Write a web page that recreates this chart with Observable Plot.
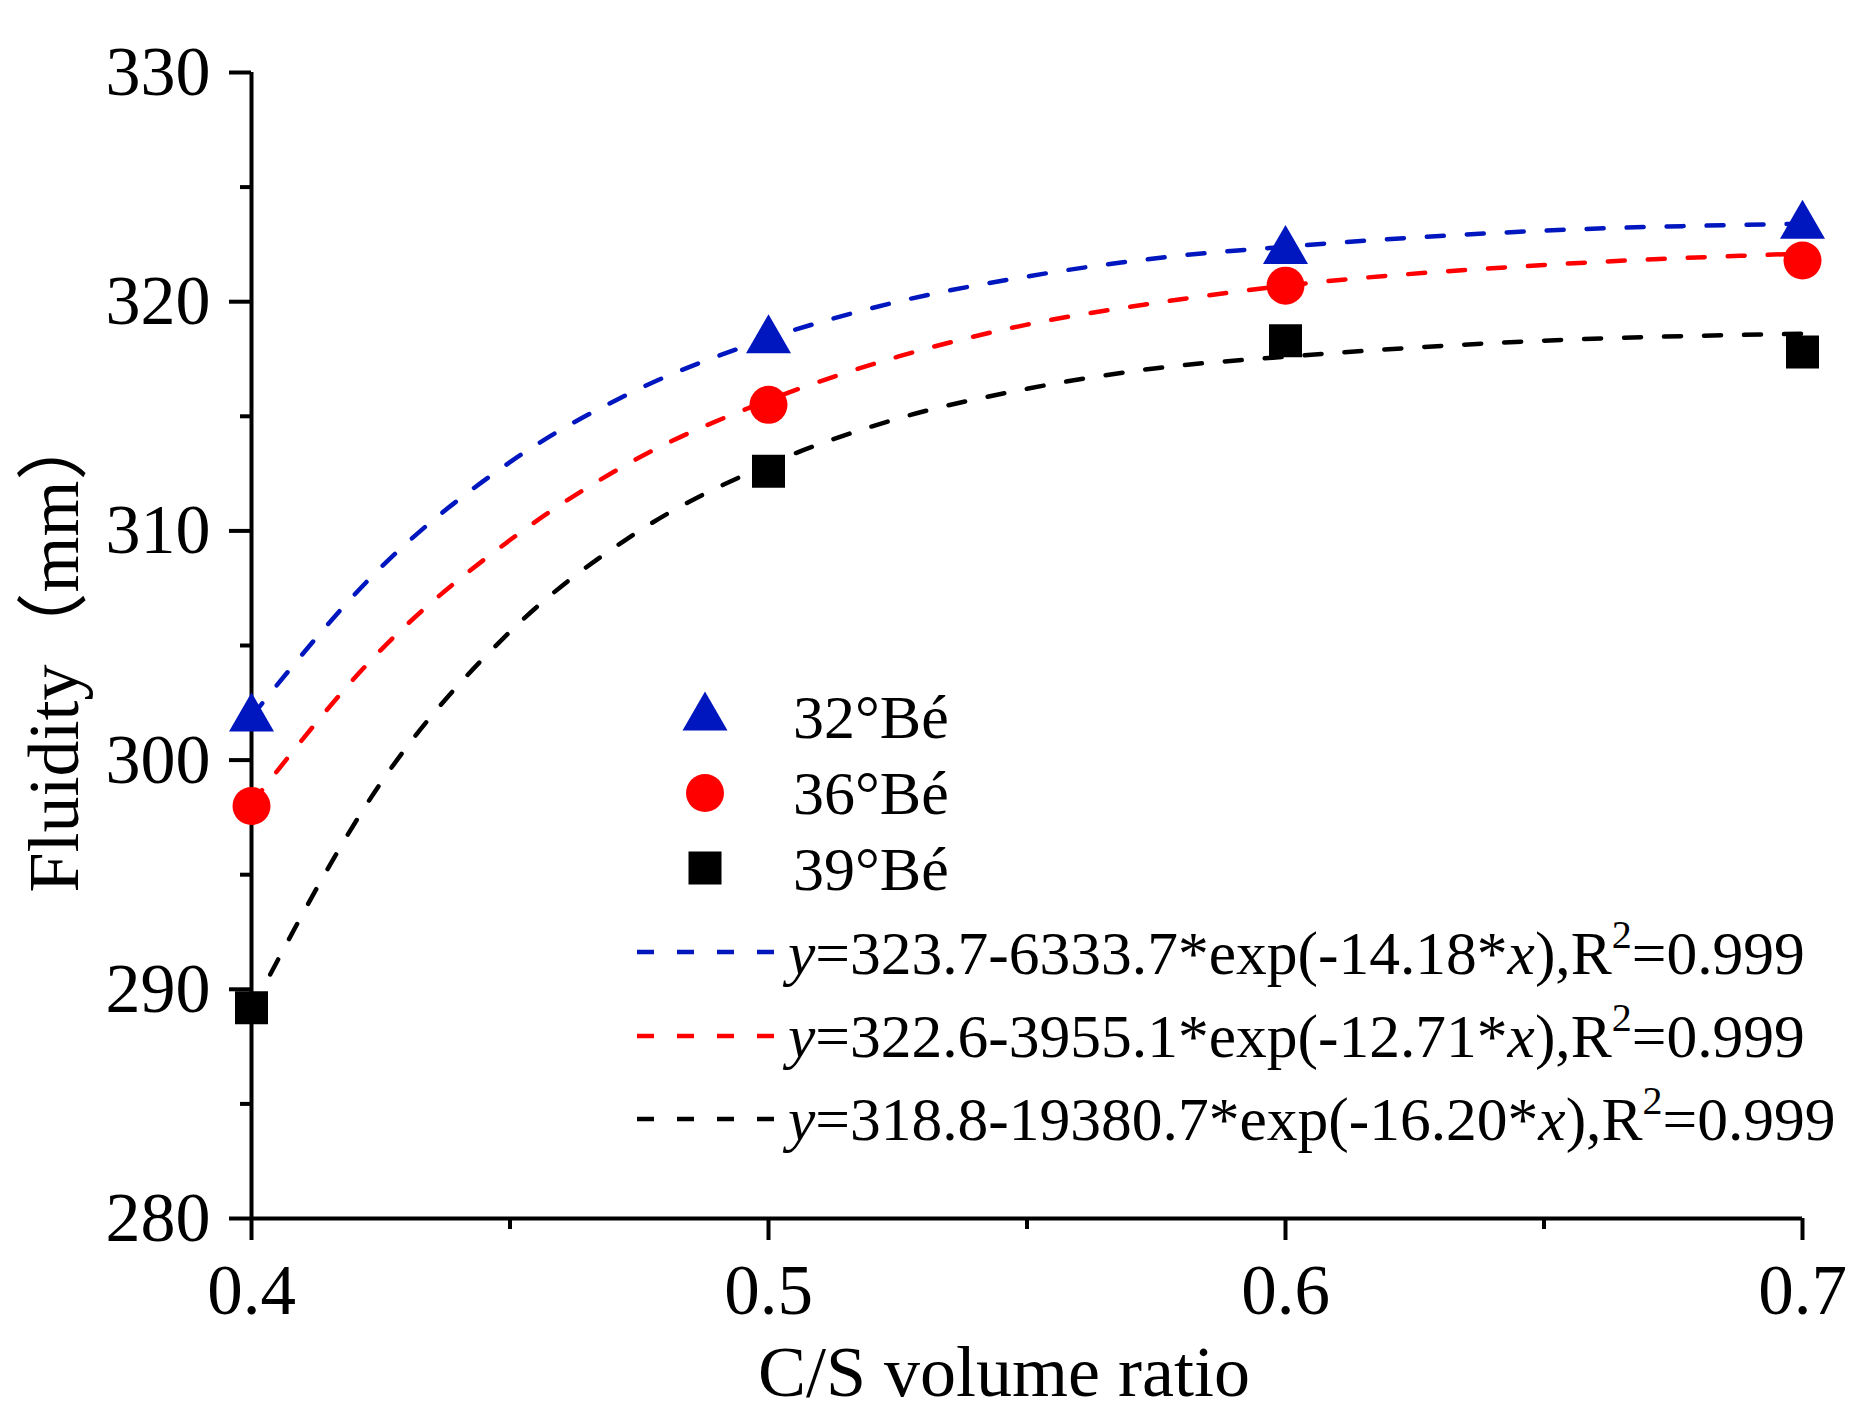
<!DOCTYPE html>
<html>
<head>
<meta charset="utf-8">
<script src="https://cdn.jsdelivr.net/npm/d3@7"></script>
<script src="https://cdn.jsdelivr.net/npm/@observablehq/plot@0.6"></script>
<style>
  html, body { margin: 0; padding: 0; background: #ffffff; }
  #wrap { position: relative; width: 1872px; height: 1424px; background: #ffffff; }
  #wrap svg { display: block; }
  #legend { position: absolute; left: 0; top: 0; pointer-events: none; }
</style>
</head>
<body>
<div id="wrap"></div>
<script>
// ---- data ----
const csRatio = [0.4, 0.5, 0.6, 0.7];
const fluidity32 = [302.1, 318.6, 322.5, 323.6];
const fluidity36 = [298.0, 315.5, 320.7, 321.8];
const fluidity39 = [289.2, 312.6, 318.3, 317.8];

// fitted curves (dashed)
const fitX   = [0.4, 0.425, 0.45, 0.475, 0.5, 0.525, 0.55, 0.575, 0.6, 0.65, 0.7];
const fit32  = [301.9, 308.4, 313.0, 316.2, 318.4, 320.0, 321.1, 321.9, 322.4, 323.1, 323.4];
const fit36  = [298.1, 304.8, 309.6, 313.2, 315.7, 317.6, 319.0, 319.95, 320.7, 321.6, 322.1];
const fit39  = [289.1, 299.0, 305.6, 310.0, 312.9, 314.9, 316.2, 317.1, 317.6, 318.3, 318.6];

const seriesNames = ["32°Bé", "36°Bé", "39°Bé"];
const fitLabels = [
  ["323.7-6333.7*exp(-14.18*", "0.999"],
  ["322.6-3955.1*exp(-12.71*", "0.999"],
  ["318.8-19380.7*exp(-16.20*", "0.999"]
];

const yTicks = [280, 290, 300, 310, 320, 330];
const yMinorTicks = [285, 295, 305, 315, 325];
const xTicks = [0.4, 0.5, 0.6, 0.7];
const xMinorTicks = [0.45, 0.55, 0.65];

// ---- styles ----
const BLUE = "#0016be", RED = "#ff0000", BLACK = "#000000";
const colors = [BLUE, RED, BLACK];
const FONT = "'Liberation Serif','Times New Roman','Noto Sans CJK SC',serif";

const triUp = {draw(ctx, size) {
  const r = Math.sqrt(size / Math.PI), h = r * Math.sqrt(3);
  ctx.moveTo(0, -h / 2); ctx.lineTo(r, h / 2); ctx.lineTo(-r, h / 2); ctx.closePath();
}};
const sq = {draw(ctx, size) {
  const r = Math.sqrt(size / Math.PI);
  ctx.rect(-r, -r, 2 * r, 2 * r);
}};

const pts = (ys) => csRatio.map((x, i) => ({x, y: ys[i]}));
const fit = (ys) => fitX.map((x, i) => ({x, y: ys[i]}));

const dash = "17,23";
const chart = Plot.plot({
  width: 1872, height: 1424,
  marginLeft: 251, marginRight: 70, marginTop: 72, marginBottom: 206,
  x: {domain: [0.4, 0.7]},
  y: {domain: [280, 330]},
  style: {fontFamily: FONT, background: "#ffffff", color: "#000000", overflow: "visible"},
  marks: [
    Plot.axisY({ticks: yTicks, tickSize: 22, tickPadding: 19, fontSize: 70, strokeWidth: 4, label: null, tickFormat: d => String(d)}),
    Plot.axisY({ticks: yMinorTicks, tickSize: 11, strokeWidth: 4, text: null, label: null}),
    Plot.axisX({ticks: xTicks, tickSize: 22, tickPadding: 23, fontSize: 71, strokeWidth: 4, label: null, tickFormat: d3.format(".1f")}),
    Plot.axisX({ticks: xMinorTicks, tickSize: 11, strokeWidth: 4, text: null, label: null}),
    Plot.ruleX([0.4], {strokeWidth: 4}),
    Plot.ruleY([280], {strokeWidth: 4}),
    Plot.line(fit(fit32), {x: "x", y: "y", stroke: BLUE, strokeWidth: 4.5, strokeDasharray: dash, curve: "monotone-x"}),
    Plot.line(fit(fit36), {x: "x", y: "y", stroke: RED, strokeWidth: 4.5, strokeDasharray: dash, curve: "monotone-x"}),
    Plot.line(fit(fit39), {x: "x", y: "y", stroke: BLACK, strokeWidth: 4.5, strokeDasharray: dash, curve: "monotone-x"}),
    Plot.dot(pts(fluidity32), {x: "x", y: "y", symbol: triUp, r: 22.5, fill: BLUE, stroke: "none"}),
    Plot.dot(pts(fluidity36), {x: "x", y: "y", symbol: "circle", r: 19, fill: RED, stroke: "none"}),
    Plot.dot(pts(fluidity39), {x: "x", y: "y", symbol: sq, r: 16.5, fill: BLACK, stroke: "none"}),
    Plot.text(["C/S volume ratio"], {text: d => d, frameAnchor: "bottom", textAnchor: "middle", dx: -23, dy: 154, lineAnchor: "middle", fontSize: 72, fill: "black"}),
    Plot.text(["Fluidity（mm）"], {text: d => d, frameAnchor: "left", textAnchor: "middle", rotate: -90, dx: -197, dy: 5, lineAnchor: "middle", fontSize: 72, fill: "black"})
  ]
});
document.getElementById("wrap").appendChild(chart);

// ---- legend overlay (inside plot area) ----
const lg = d3.select("#wrap").append("svg").attr("id", "legend")
  .attr("width", 1872).attr("height", 1424)
  .style("font-family", FONT);

const symX = 705, symRows = [711, 793, 868];
const symDefs = [triUp, d3.symbolCircle, sq];
const symR = [22.5, 19, 16.5];
symRows.forEach((cy, i) => {
  lg.append("path")
    .attr("d", d3.symbol(symDefs[i], symR[i] * symR[i] * Math.PI)())
    .attr("transform", `translate(${symX},${cy})`)
    .attr("fill", colors[i]);
  lg.append("text").attr("x", 793).attr("y", [738, 814, 890][i])
    .attr("font-size", 62).attr("fill", "black").text(seriesNames[i]);
});

const lineRows = [952, 1036, 1119];
const textRows = [974, 1057, 1140];
lineRows.forEach((ly, i) => {
  lg.append("line").attr("x1", 637).attr("x2", 776).attr("y1", ly).attr("y2", ly)
    .attr("stroke", colors[i]).attr("stroke-width", 4.5).attr("stroke-dasharray", dash);
  const t = lg.append("text").attr("x", 788).attr("y", textRows[i])
    .attr("font-size", 61.5).attr("fill", "black");
  t.append("tspan").attr("font-style", "italic").text("y");
  t.append("tspan").text("=" + fitLabels[i][0]);
  t.append("tspan").attr("font-style", "italic").text("x");
  t.append("tspan").text("),R");
  t.append("tspan").attr("font-size", 40).attr("dy", -26).text("2");
  t.append("tspan").attr("dy", 26).text("=" + fitLabels[i][1]);
});
</script>
</body>
</html>
